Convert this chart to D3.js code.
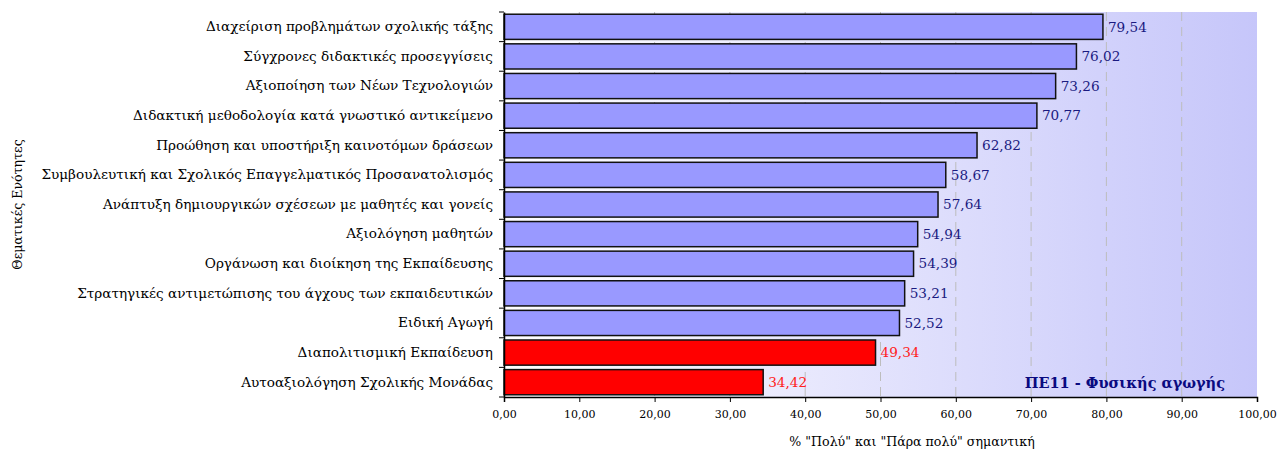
<!DOCTYPE html>
<html><head><meta charset="utf-8">
<script src="https://cdn.jsdelivr.net/npm/d3@7"></script>
<style>body{margin:0;background:#fff;}svg{display:block;font-family:"DejaVu Serif",serif;}</style>
</head><body>
<svg id="chart" width="1277" height="452"></svg>
<script>
const categories = [
  "Διαχείριση προβλημάτων σχολικής τάξης",
  "Σύγχρονες διδακτικές προσεγγίσεις",
  "Αξιοποίηση των Νέων Τεχνολογιών",
  "Διδακτική μεθοδολογία κατά γνωστικό αντικείμενο",
  "Προώθηση και υποστήριξη καινοτόμων δράσεων",
  "Συμβουλευτική και Σχολικός Επαγγελματικός Προσανατολισμός",
  "Ανάπτυξη δημιουργικών σχέσεων με μαθητές και γονείς",
  "Αξιολόγηση μαθητών",
  "Οργάνωση και διοίκηση της Εκπαίδευσης",
  "Στρατηγικές αντιμετώπισης του άγχους των εκπαιδευτικών",
  "Ειδική Αγωγή",
  "Διαπολιτισμική Εκπαίδευση",
  "Αυτοαξιολόγηση Σχολικής Μονάδας"
];
const values = [79.54, 76.02, 73.26, 70.77, 62.82, 58.67, 57.64, 54.94, 54.39, 53.21, 52.52, 49.34, 34.42];
const xTicks = [0, 10, 20, 30, 40, 50, 60, 70, 80, 90, 100];
const threshold = 50;
const xTitle = '% "Πολύ" και "Πάρα πολύ" σημαντική';
const yTitle = "Θεματικές Ενότητες";
const annotation = "ΠΕ11 - Φυσικής αγωγής";

const SERIF = "DejaVu Serif, serif";
const svg = d3.select("#chart");
const L = 504, R = 1257, T = 12, B = 397;
const x = d3.scaleLinear().domain([0, 100]).range([L, R]);
const y = d3.scaleBand().domain(categories).range([T, B]).paddingInner(0.15).paddingOuter(0.075);
const fmt = v => d3.format(".2f")(v).replace(".", ",");

const defs = svg.append("defs");
const g = defs.append("linearGradient").attr("id", "bg").attr("x1", "0").attr("x2", "1").attr("y1", "0").attr("y2", "0");
g.append("stop").attr("offset", "0").attr("stop-color", "#ffffff");
g.append("stop").attr("offset", "1").attr("stop-color", "#c6c6fa");

svg.append("rect").attr("x", L).attr("y", T).attr("width", R - L).attr("height", B - T).attr("fill", "url(#bg)");

// grid
svg.append("g").selectAll("line").data(xTicks.filter(d => d > 0 && d < 100)).join("line")
  .attr("x1", d => x(d)).attr("x2", d => x(d)).attr("y1", T).attr("y2", B)
  .attr("stroke", "#bdbdbd").attr("stroke-width", 1).attr("stroke-dasharray", "9,6");

// bars
svg.append("g").selectAll("rect").data(values).join("rect")
  .attr("x", x(0)).attr("y", (d, i) => y(categories[i]))
  .attr("width", d => x(d) - x(0)).attr("height", y.bandwidth())
  .attr("fill", d => d < threshold ? "#ff0000" : "#9999ff")
  .attr("stroke", "#111").attr("stroke-width", 1.5);

// value labels
svg.append("g").selectAll("text").data(values).join("text")
  .attr("x", d => x(d) + 5).attr("y", (d, i) => y(categories[i]) + y.bandwidth() / 2)
  .attr("dy", "0.35em").attr("font-size", 13.6).attr("font-family", SERIF)
  .attr("fill", d => d < threshold ? "#ff2020" : "#1a1a80")
  .text(d => fmt(d));

// x axis
const xa = svg.append("g").attr("transform", `translate(0,${B})`)
  .call(d3.axisBottom(x).tickValues(xTicks).tickFormat(fmt).tickSize(5).tickPadding(8));
xa.attr("font-family", SERIF);
xa.select(".domain").attr("stroke", "#000").attr("stroke-width", 1.5);
xa.selectAll(".tick line").attr("stroke", "#000");
xa.selectAll("text").attr("font-family", SERIF).attr("font-size", 11).attr("fill", "#000");

// y axis
const ya = svg.append("g").attr("transform", `translate(${L},0)`)
  .call(d3.axisLeft(y).tickSize(0).tickPadding(11));
ya.attr("font-family", SERIF);
ya.select(".domain").attr("stroke", "#000").attr("stroke-width", 1.5);
ya.selectAll("text").attr("font-family", SERIF).attr("font-size", 13.6).attr("fill", "#000");
const bounds = [T, ...categories.map(c => y(c) + y.bandwidth() + (y.step() - y.bandwidth()) / 2)];
svg.append("g").selectAll("line").data(bounds).join("line")
  .attr("x1", L - 5).attr("x2", L).attr("y1", d => d).attr("y2", d => d)
  .attr("stroke", "#000").attr("stroke-width", 1);

// titles
svg.append("text").attr("x", 912).attr("y", 446).attr("text-anchor", "middle")
  .attr("font-size", 12.6).attr("font-family", SERIF).attr("fill", "#000").text(xTitle);
svg.append("text").attr("transform", `translate(22,${(T + B) / 2}) rotate(-90)`).attr("text-anchor", "middle")
  .attr("font-size", 12.6).attr("font-family", SERIF).attr("fill", "#000").text(yTitle);
svg.append("text").attr("x", 1225).attr("y", 388).attr("text-anchor", "end")
  .attr("font-size", 14.5).attr("font-weight", "bold").attr("font-family", SERIF).attr("fill", "#0a0a80").text(annotation);
</script>
</body></html>
